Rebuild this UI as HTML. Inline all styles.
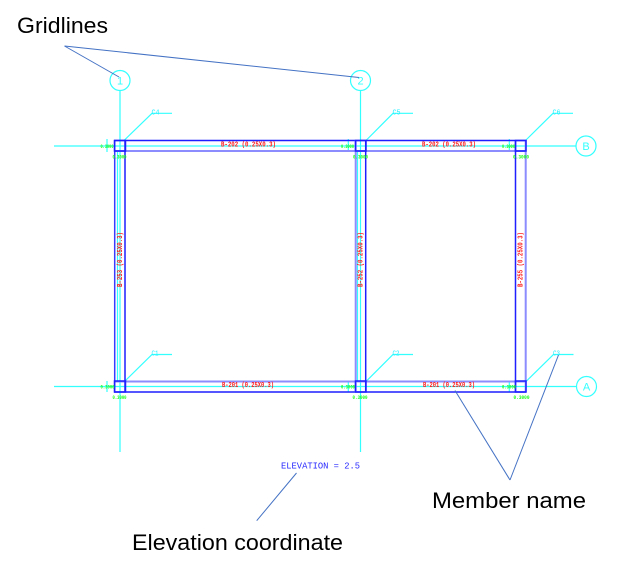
<!DOCTYPE html>
<html><head><meta charset="utf-8"><style>
html,body{margin:0;padding:0;background:#fff;}
svg{display:block;}
</style></head><body>
<svg width="619" height="563" viewBox="0 0 619 563" xmlns="http://www.w3.org/2000/svg">
<rect width="619" height="563" fill="#fff"/>
<!-- grid lines -->
<g stroke="#3ff" stroke-width="1.2" fill="none">
<line x1="120" y1="91" x2="120" y2="452"/>
<line x1="360.5" y1="91" x2="360.5" y2="452"/>
<line x1="54" y1="146" x2="576" y2="146"/>
<line x1="54" y1="386.5" x2="576.5" y2="386.5"/>
<circle cx="120" cy="80.5" r="10"/>
<circle cx="360.5" cy="80.5" r="10"/>
<circle cx="586" cy="146" r="10"/>
<circle cx="586.5" cy="386.5" r="10"/>
<line x1="117.5" y1="151" x2="117.5" y2="381"/>
<line x1="357.5" y1="151" x2="357.5" y2="381"/>
<polyline points="124,140.5 152,113.3 172,113.3"/>
<polyline points="366,140.5 393,113.3 413,113.3"/>
<polyline points="525.5,140.5 553,113.3 573,113.3"/>
<polyline points="124,382 152,354.5 172,354.5"/>
<polyline points="365,382.5 393,354.5 413,354.5"/>
<polyline points="525,382.5 553.5,354.5 573.5,354.5"/>
<line x1="107" y1="139" x2="107" y2="152"/>
<line x1="348.3" y1="139" x2="348.3" y2="151"/>
<line x1="509.3" y1="139" x2="509.3" y2="151"/>
<line x1="107" y1="381" x2="107" y2="392"/>
<line x1="348.3" y1="381" x2="348.3" y2="392"/>
<line x1="509.3" y1="381" x2="509.3" y2="392"/>
</g>
<g fill="#3ff" font-family="Liberation Sans, sans-serif" font-size="11" text-anchor="middle">
<text x="120" y="84.5">1</text>
<text x="360.5" y="84.5">2</text>
<text x="586" y="150">B</text>
<text x="586.5" y="390.5">A</text>
</g>
<g fill="#2ef" font-family="Liberation Mono, monospace" font-size="7">
<text x="151.5" y="114.5" textLength="8" lengthAdjust="spacingAndGlyphs">C4</text>
<text x="392.5" y="114.5" textLength="8" lengthAdjust="spacingAndGlyphs">C5</text>
<text x="552.5" y="114.5" textLength="8" lengthAdjust="spacingAndGlyphs">C6</text>
<text x="151.5" y="355.5" textLength="7" lengthAdjust="spacingAndGlyphs">C1</text>
<text x="392.5" y="355.5" textLength="7" lengthAdjust="spacingAndGlyphs">C2</text>
<text x="553" y="355.5" textLength="7" lengthAdjust="spacingAndGlyphs">C3</text>
</g>
<!-- beams -->
<g fill="none" stroke-width="1.5">
<line x1="114" y1="140.5" x2="526" y2="140.5" stroke="#1f1fff"/>
<line x1="114" y1="151" x2="526" y2="151" stroke="#8c8cff" stroke-width="2"/>
<line x1="114" y1="381.5" x2="526" y2="381.5" stroke="#8c8cff" stroke-width="2"/>
<line x1="114" y1="392" x2="526" y2="392" stroke="#1f1fff"/>
<line x1="114.7" y1="140" x2="114.7" y2="392.5" stroke="#3a3aff"/>
<line x1="125" y1="140" x2="125" y2="392.5" stroke="#1f1fff"/>
<line x1="355.7" y1="140" x2="355.7" y2="392.5" stroke="#8c8cff" stroke-width="2"/>
<line x1="365.7" y1="140" x2="365.7" y2="392.5" stroke="#1f1fff"/>
<line x1="515.5" y1="140" x2="515.5" y2="392.5" stroke="#1f1fff"/>
<line x1="525.7" y1="140" x2="525.7" y2="392.5" stroke="#8c8cff" stroke-width="2"/>
<g stroke="#1f1fff">
<rect x="114.5" y="140.5" width="11" height="10.5"/>
<rect x="355.5" y="140.5" width="10.5" height="10.5"/>
<rect x="515.5" y="140.5" width="10.5" height="10.5"/>
<rect x="114.5" y="381" width="11" height="11"/>
<rect x="355.5" y="381" width="10.5" height="11"/>
<rect x="515.5" y="381" width="10.5" height="11"/>
</g>
</g>
<!-- red member labels -->
<g fill="#ff1a1a" font-family="Liberation Mono, monospace" font-size="7" font-weight="bold">
<text x="221" y="146.5" textLength="55" lengthAdjust="spacingAndGlyphs">B-202 (0.25X0.3)</text>
<text x="422" y="146.5" textLength="54" lengthAdjust="spacingAndGlyphs">B-202 (0.25X0.3)</text>
<text x="222" y="387" textLength="52" lengthAdjust="spacingAndGlyphs">B-201 (0.25X0.3)</text>
<text x="423" y="387" textLength="52" lengthAdjust="spacingAndGlyphs">B-201 (0.25X0.3)</text>
<text transform="translate(122,287) rotate(-90)" textLength="55" lengthAdjust="spacingAndGlyphs">B-253 (0.25X0.3)</text>
<text transform="translate(362.5,287) rotate(-90)" textLength="55" lengthAdjust="spacingAndGlyphs">B-252 (0.25X0.3)</text>
<text transform="translate(522.5,287) rotate(-90)" textLength="55" lengthAdjust="spacingAndGlyphs">B-255 (0.25X0.3)</text>
</g>
<!-- green dimension labels -->
<g fill="#1aff1a" font-family="Liberation Mono, monospace" font-size="5.5" font-weight="bold">
<text x="100.5" y="148" textLength="13" lengthAdjust="spacingAndGlyphs">0.3000</text>
<text x="112.5" y="158.5" textLength="14" lengthAdjust="spacingAndGlyphs">0.3000</text>
<text x="341" y="148" textLength="13" lengthAdjust="spacingAndGlyphs">0.3000</text>
<text x="353" y="158.5" textLength="15" lengthAdjust="spacingAndGlyphs">0.3000</text>
<text x="502" y="148" textLength="13" lengthAdjust="spacingAndGlyphs">0.3000</text>
<text x="513" y="158.5" textLength="16" lengthAdjust="spacingAndGlyphs">0.3000</text>
<text x="100.5" y="388.5" textLength="14" lengthAdjust="spacingAndGlyphs">0.3000</text>
<text x="112.5" y="399" textLength="14" lengthAdjust="spacingAndGlyphs">0.3000</text>
<text x="341" y="388.5" textLength="14" lengthAdjust="spacingAndGlyphs">0.3000</text>
<text x="352.5" y="399" textLength="15" lengthAdjust="spacingAndGlyphs">0.3000</text>
<text x="502" y="388.5" textLength="14" lengthAdjust="spacingAndGlyphs">0.3000</text>
<text x="513.5" y="399" textLength="16" lengthAdjust="spacingAndGlyphs">0.3000</text>
</g>
<!-- elevation -->
<text x="281" y="468.5" fill="#2a2aff" font-family="Liberation Mono, monospace" font-size="9" textLength="79" lengthAdjust="spacingAndGlyphs">ELEVATION = 2.5</text>
<!-- annotation leaders -->
<g stroke="#4472c4" stroke-width="1" fill="none">
<line x1="64.5" y1="46" x2="119" y2="77"/>
<line x1="64.5" y1="46" x2="359" y2="77.5"/>
<line x1="510" y1="480" x2="455" y2="390.5"/>
<line x1="510" y1="480" x2="558.5" y2="355"/>
<line x1="256.7" y1="520.7" x2="296.5" y2="473"/>
</g>
<!-- annotation text -->
<g fill="#000" font-family="Liberation Sans, sans-serif" font-size="22">
<text x="17" y="33" textLength="91" lengthAdjust="spacingAndGlyphs">Gridlines</text>
<text x="432" y="508" textLength="154" lengthAdjust="spacingAndGlyphs">Member name</text>
<text x="132" y="550" textLength="211" lengthAdjust="spacingAndGlyphs">Elevation coordinate</text>
</g>
</svg>
</body></html>
